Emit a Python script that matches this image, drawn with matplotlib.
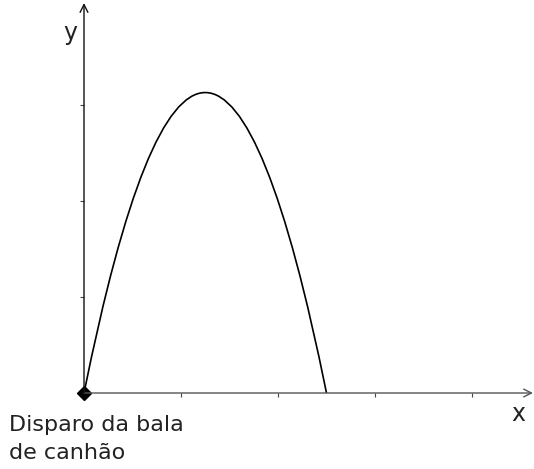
import numpy as np
import matplotlib
matplotlib.use("Agg")
import matplotlib.pyplot as plt
from matplotlib.path import Path
from matplotlib.patches import PathPatch

# cannon ball trajectory (tick units):
# launch point, landing point and apex height
launch = (0.0, 0.0)
landing = (2.5, 0.0)
apex_height = 3.13
x_ticks = [1, 2, 3, 4]
y_ticks = [1, 2, 3]
launch_label = "Disparo da bala\nde canhão"

W, H = 534, 469
x0, y0 = 84, 393      # pixel position of the origin
unit_x, unit_y = 97, 96
x_end, y_end = 533, 3

fig = plt.figure(figsize=(W / 100, H / 100), dpi=100)
ax = fig.add_axes([x0 / W, (H - y0) / H, (x_end - x0) / W, (y0 - y_end) / H])
ax.set_xlim(0, (x_end - x0) / unit_x)
ax.set_ylim(0, (y0 - y_end) / unit_y)
for s in ax.spines.values():
    s.set_visible(False)

# axes with open arrow heads
ax.annotate("", xy=(1, 0), xytext=(0, 0), xycoords="axes fraction",
            arrowprops=dict(arrowstyle="->", color="#555555", lw=1.0,
                            shrinkA=0, shrinkB=0, mutation_scale=14))
ax.annotate("", xy=(0, 1), xytext=(0, 0), xycoords="axes fraction",
            arrowprops=dict(arrowstyle="->", color="#111111", lw=1.0,
                            shrinkA=0, shrinkB=0, mutation_scale=14))

ax.set_xticks(x_ticks)
ax.set_yticks(y_ticks)
ax.tick_params(length=3, width=0.8, color="#444444", direction="out",
               labelbottom=False, labelleft=False)

# parabola as a quadratic bezier (control point at twice the apex height)
ctrl = ((launch[0] + landing[0]) / 2, 2 * apex_height)
path = Path([launch, ctrl, landing], [Path.MOVETO, Path.CURVE3, Path.CURVE3])
ax.add_patch(PathPatch(path, facecolor="none", edgecolor="black", lw=1.2,
                       clip_on=False))
ax.plot([launch[0]], [launch[1]], marker="D", color="black", ms=7,
        clip_on=False)

lines = launch_label.split("\n")
for i, line in enumerate(lines):
    fig.text(9 / W, 1 - (431 + 28 * i) / H, line, fontsize=16,
             color="#222222", va="baseline", ha="left")
fig.text(70 / W, 1 - 33 / H, "y", fontsize=17, color="#222222",
         ha="center", va="center")
fig.text(518 / W, 1 - 414 / H, "x", fontsize=17, color="#222222",
         ha="center", va="center")

fig.savefig("out.png", dpi=100)
